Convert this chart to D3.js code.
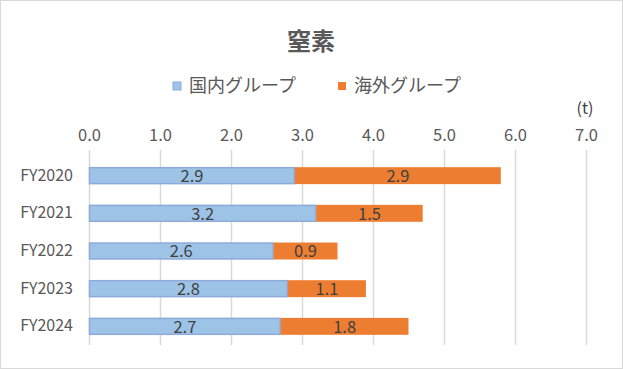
<!DOCTYPE html>
<html>
<head>
<meta charset="utf-8">
<script src="https://cdn.jsdelivr.net/npm/d3@7"></script>
<style>
  body { margin: 0; background: #fff; }
  text { font-family: "Noto Sans CJK JP", "Noto Sans", sans-serif; }
</style>
</head>
<body>
<div id="chart"></div>
<script>
// data
var years = ["FY2020", "FY2021", "FY2022", "FY2023", "FY2024"];
var domestic = [2.9, 3.2, 2.6, 2.8, 2.7];
var overseas = [2.9, 1.5, 0.9, 1.1, 1.8];
var seriesNames = ["国内グループ", "海外グループ"];
var xTicks = [0, 1, 2, 3, 4, 5, 6, 7];

var width = 623, height = 369;
var margin = {top: 157, left: 89, right: 37, bottom: 24};

var svg = d3.select("#chart").append("svg")
    .attr("width", width)
    .attr("height", height);

// chart frame
svg.append("rect")
    .attr("x", 0.5).attr("y", 0.5)
    .attr("width", width - 1).attr("height", height - 1)
    .attr("fill", "#fff")
    .attr("stroke", "#d9d9d9");

var x = d3.scaleLinear()
    .domain([0, 7])
    .range([margin.left, width - margin.right]);

var y = d3.scaleBand()
    .domain(years)
    .range([margin.top, height - margin.bottom])
    .paddingInner(0.55)
    .paddingOuter(0.27);

/***** Gridlines *****/
svg.append("g")
    .selectAll("line")
    .data(xTicks)
    .enter().append("line")
    .attr("x1", function(d) { return Math.round(x(d)) + 0.5; })
    .attr("x2", function(d) { return Math.round(x(d)) + 0.5; })
    .attr("y1", 150)
    .attr("y2", height - margin.bottom)
    .attr("stroke", "#d9d9d9")
    .attr("stroke-width", 1.5);

/***** Axis labels on top *****/
var xAxis = d3.axisTop(x)
    .tickValues(xTicks)
    .tickFormat(d3.format(".1f"))
    .tickSize(0)
    .tickPadding(0);

var gx = svg.append("g")
    .attr("transform", "translate(0,141)")
    .call(xAxis);
gx.select(".domain").remove();
gx.selectAll("text")
    .attr("font-size", 16.5)
    .attr("fill", "#595959")
    .attr("font-family", "'Noto Sans CJK JP', sans-serif");

var yAxis = d3.axisLeft(y).tickSize(0).tickPadding(16);
var gy = svg.append("g")
    .attr("transform", "translate(" + margin.left + ",0)")
    .call(yAxis);
gy.select(".domain").remove();
gy.selectAll("text")
    .attr("font-size", 16)
    .attr("fill", "#595959")
    .attr("font-family", "'Noto Sans CJK JP', sans-serif");

/***** Bars *****/
var rows = years.map(function(yr, i) {
    return {year: yr, dom: domestic[i], ovs: overseas[i]};
});

var bars = svg.append("g").selectAll("g")
    .data(rows)
    .enter().append("g");

bars.append("rect")
    .attr("x", x(0) + 0.5)
    .attr("y", function(d) { return y(d.year) + 0.5; })
    .attr("width", function(d) { return x(d.dom) - x(0) - 1; })
    .attr("height", y.bandwidth() - 1)
    .attr("fill", "#9dc3e6")
    .attr("stroke", "#8eaadb")
    .attr("stroke-width", 1.5);

bars.append("rect")
    .attr("x", function(d) { return x(d.dom); })
    .attr("y", function(d) { return y(d.year); })
    .attr("width", function(d) { return x(d.dom + d.ovs) - x(d.dom); })
    .attr("height", y.bandwidth())
    .attr("fill", "#ed7d31");

bars.append("text")
    .attr("x", function(d) { return (x(0) + x(d.dom)) / 2; })
    .attr("y", function(d) { return y(d.year) + y.bandwidth() / 2; })
    .attr("dy", "0.38em")
    .attr("text-anchor", "middle")
    .attr("font-size", 16.5)
    .attr("fill", "#404040")
    .text(function(d) { return d.dom.toFixed(1); });

bars.append("text")
    .attr("x", function(d) { return (x(d.dom) + x(d.dom + d.ovs)) / 2; })
    .attr("y", function(d) { return y(d.year) + y.bandwidth() / 2; })
    .attr("dy", "0.38em")
    .attr("text-anchor", "middle")
    .attr("font-size", 16.5)
    .attr("fill", "#404040")
    .text(function(d) { return d.ovs.toFixed(1); });

/***** Title *****/
svg.append("text")
    .attr("x", 311)
    .attr("y", 50)
    .attr("text-anchor", "middle")
    .attr("font-size", 24)
    .attr("font-weight", "bold")
    .attr("fill", "#595959")
    .text("窒素");

/***** Legend *****/
var legendData = [
    {name: seriesNames[0], fill: "#9dc3e6", stroke: "#8eaadb", x: 173},
    {name: seriesNames[1], fill: "#ed7d31", stroke: "none", x: 338}
];
var legend = svg.append("g").selectAll("g")
    .data(legendData)
    .enter().append("g");

legend.append("rect")
    .attr("x", function(d) { return d.x; })
    .attr("y", 82)
    .attr("width", 8)
    .attr("height", 8)
    .attr("fill", function(d) { return d.fill; })
    .attr("stroke", function(d) { return d.stroke; });

legend.append("text")
    .attr("x", function(d) { return d.x + 16; })
    .attr("y", 86)
    .attr("dy", "0.36em")
    .attr("font-size", 18)
    .attr("fill", "#595959")
    .text(function(d) { return d.name; });

/***** Unit *****/
svg.append("text")
    .attr("x", 585)
    .attr("y", 108)
    .attr("text-anchor", "middle")
    .attr("dy", "0.36em")
    .attr("font-size", 16)
    .attr("fill", "#404040")
    .text("(t)");
</script>
</body>
</html>
